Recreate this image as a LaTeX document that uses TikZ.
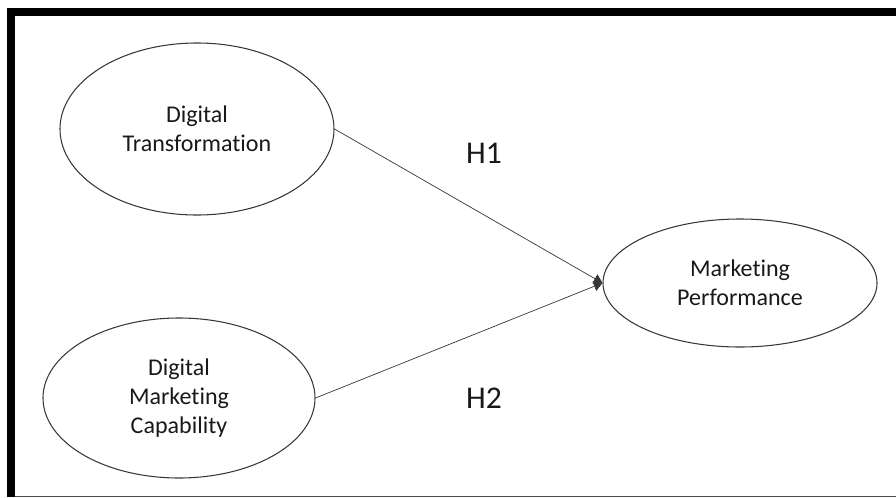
\documentclass[tikz,border=0pt]{standalone}
\usepackage{fontspec}
\setmainfont{Carlito}[Ligatures=NoCommon]
\usepackage{tikz}
\usetikzlibrary{shapes.geometric,arrows.meta}
\definecolor{linec}{RGB}{55,55,55}
\definecolor{textc}{RGB}{25,25,25}
\tikzset{
  construct/.style={ellipse,draw=linec,line width=0.9pt,inner sep=0pt,align=center,
    text=textc,font=\fontsize{20.5}{24.7}\selectfont},
  path/.style={-{Triangle[length=2.6mm,width=3mm]},line width=0.6pt,linec},
  hyp/.style={font=\fontsize{27}{30}\selectfont,text=textc},
}

\begin{document}
\begin{tikzpicture}[x=0.03cm,y=-0.03cm]
  \useasboundingbox (0,0) rectangle (896,497);
  % frame
  \fill[black] (7,8) rectangle (896,16);
  \fill[black] (7,8) rectangle (15,497);
  \fill[black!70] (15,495.5) rectangle (896,497);
  % constructs
  \node[construct,minimum width=8.22cm,minimum height=5.16cm] (dt) at (197,129) {Digital\\Transformation};
  \node[construct,minimum width=8.16cm,minimum height=4.8cm] (dmc) at (179,398) {Digital\\Marketing\\Capability};
  \node[construct,minimum width=8.22cm,minimum height=3.84cm] (mp) at (740,283) {Marketing\\Performance};
  % hypotheses
  \draw[path] (dt.east) -- (mp.west);
  \draw[path] (dmc.east) -- (mp.west);
  \node[hyp] (h1) at (484,153) {H1};
  \node[hyp] (h2) at (484,398) {H2};
\end{tikzpicture}
\end{document}
